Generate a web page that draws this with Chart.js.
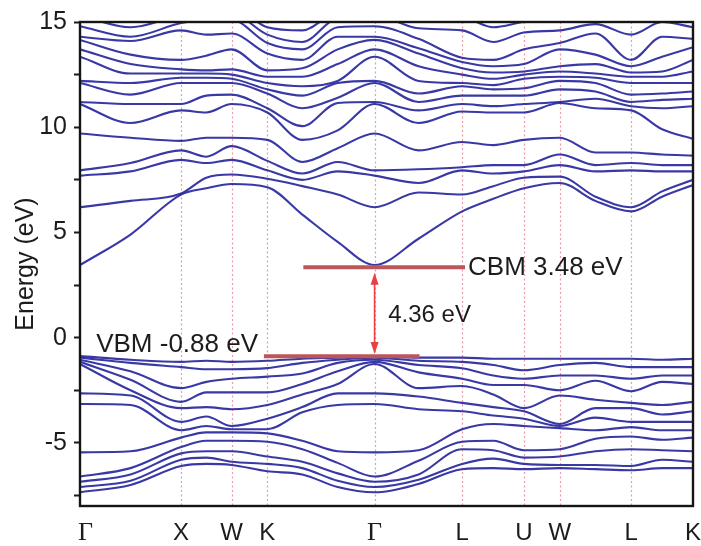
<!DOCTYPE html>
<html>
<head>
<meta charset="utf-8">
<script src="https://cdn.jsdelivr.net/npm/chart.js@4/dist/chart.umd.min.js"></script>
<style>
  html, body { margin: 0; padding: 0; background: #ffffff; }
  #wrap { width: 701px; height: 546px; }
</style>
</head>
<body>
<div id="wrap"><canvas id="c" width="701" height="546"></canvas></div>
<script>
// ---- high-symmetry path ----
const kPositions = [0, 1.0, 1.5, 1.854, 2.915, 3.781, 4.393, 4.747, 5.454, 6.066];
const kLabels = ['Γ', 'X', 'W', 'K', 'Γ', 'L', 'U', 'W', 'L', 'K'];

// k values at which band energies were read
const kSamples = [0, 0.5, 1.0, 1.25, 1.5, 1.854, 2.2, 2.55, 2.915, 3.35, 3.781, 4.09, 4.393, 4.747, 5.1, 5.454, 5.76, 6.066];

// valence band energies (eV) at each sampled k, highest first
const valenceAtK = [
  [-0.88, -0.95, -1.05, -1.15, -1.25, -2.65, -3.15, -5.45, -6.6, -6.85, -7.1, -7.35], // Γ
  [-1.05, -1.2, -1.6, -2.0, -2.5, -2.75, -3.2, -5.4, -6.2, -6.5, -6.8, -7.0],
  [-1.15, -1.4, -2.4, -3.05, -3.35, -4.0, -4.4, -4.75, -5.2, -5.5, -5.8, -6.1],      // X
  [-1.1, -1.5, -2.1, -2.6, -3.3, -3.75, -4.2, -4.5, -4.9, -5.4, -5.7, -6.0],
  [-1.15, -1.5, -1.95, -2.6, -3.4, -4.2, -4.35, -4.5, -4.9, -5.4, -5.9, -6.05],     // W
  [-1.1, -1.45, -1.85, -2.6, -3.2, -3.85, -4.35, -4.55, -4.95, -5.65, -6.0, -6.35], // K
  [-1.0, -1.2, -1.7, -2.2, -2.7, -3.3, -3.55, -4.9, -5.3, -5.9, -6.2, -6.5],
  [-0.95, -1.05, -1.2, -1.6, -2.2, -2.65, -3.2, -5.4, -5.95, -6.45, -6.8, -7.1],
  [-0.88, -0.95, -1.05, -1.15, -1.25, -2.65, -3.15, -5.45, -6.6, -6.85, -7.1, -7.35], // Γ
  [-0.95, -1.1, -1.3, -1.65, -2.4, -2.8, -3.4, -5.35, -5.85, -6.5, -6.75, -6.95],
  [-0.95, -1.15, -1.45, -1.95, -2.3, -3.1, -3.5, -4.35, -4.95, -5.3, -6.0, -6.25],  // L
  [-1.0, -1.3, -1.8, -2.25, -2.7, -3.3, -3.7, -4.1, -4.9, -5.35, -5.75, -6.2],
  [-1.0, -1.55, -1.95, -2.25, -3.35, -3.5, -3.85, -4.2, -5.35, -5.7, -6.0, -6.25],  // U
  [-1.0, -1.3, -1.8, -2.5, -2.75, -4.1, -4.2, -4.3, -5.3, -5.65, -6.05, -6.2],      // W
  [-1.0, -1.2, -1.8, -2.05, -2.95, -3.35, -3.8, -4.4, -4.8, -5.4, -6.05, -6.25],
  [-1.0, -1.4, -1.95, -2.55, -3.1, -3.35, -4.0, -4.25, -4.7, -5.3, -6.1, -6.3],     // L
  [-1.05, -1.4, -1.8, -2.1, -3.2, -3.65, -4.0, -4.4, -4.85, -5.35, -5.8, -6.2],
  [-1.0, -1.4, -1.8, -2.2, -3.05, -3.5, -4.0, -4.4, -4.75, -5.4, -5.9, -6.2]        // K
];

// conduction band energies (eV) at each sampled k, lowest first
const conductionAtK = [
  [3.45, 6.2, 7.7, 7.95, 9.7, 11.1, 11.2, 12.1, 12.2, 13.35, 13.7, 14.15, 14.3, 14.8, 15.3, 15.6],   // Γ
  [4.9, 6.5, 7.9, 8.3, 9.5, 10.2, 11.1, 11.55, 12.1, 12.55, 13.0, 13.45, 14.1, 14.3, 14.75, 15.3],
  [6.8, 6.85, 8.45, 8.9, 9.35, 10.8, 11.1, 12.1, 12.35, 12.55, 12.75, 13.2, 14.6, 14.95, 15.3, 15.6], // X
  [7.1, 7.6, 8.3, 8.6, 9.5, 10.7, 11.5, 12.1, 12.35, 12.55, 12.7, 13.4, 14.4, 15.1, 15.4, 15.7],
  [7.3, 7.75, 8.45, 9.1, 9.5, 11.1, 11.55, 12.1, 12.3, 12.5, 12.75, 13.7, 14.45, 15.1, 15.4, 15.7],  // W
  [7.15, 7.55, 7.95, 8.4, 9.4, 10.7, 10.9, 11.6, 11.8, 12.1, 12.4, 12.7, 13.5, 14.0, 14.4, 14.75],   // K
  [5.85, 7.2, 7.5, 7.8, 8.35, 9.4, 10.05, 10.9, 11.5, 11.95, 12.4, 12.8, 13.2, 13.7, 14.05, 14.6],
  [4.55, 6.8, 7.9, 8.35, 9.0, 9.85, 11.15, 11.4, 12.1, 12.2, 13.0, 13.7, 14.3, 14.75, 15.2, 15.5],
  [3.45, 6.2, 7.7, 7.95, 9.7, 11.1, 11.2, 12.1, 12.2, 13.35, 13.7, 14.15, 14.3, 14.8, 15.3, 15.6],   // Γ
  [4.7, 6.9, 7.35, 8.0, 8.9, 10.2, 10.8, 11.2, 11.6, 12.2, 12.9, 13.5, 13.75, 14.2, 14.7, 15.2],
  [6.0, 6.8, 7.95, 8.1, 9.3, 10.75, 11.1, 11.5, 11.95, 12.1, 12.5, 12.8, 13.1, 13.3, 14.6, 15.2],     // L
  [6.6, 7.2, 7.8, 8.2, 9.15, 10.7, 11.0, 11.5, 11.8, 12.0, 12.3, 12.6, 12.9, 13.2, 14.05, 14.75],
  [7.1, 7.6, 7.9, 8.2, 9.4, 10.7, 11.1, 11.5, 11.85, 12.3, 12.5, 12.65, 13.0, 13.7, 14.5, 15.0],      // U
  [7.35, 7.65, 8.2, 8.7, 9.5, 11.15, 11.2, 11.8, 12.2, 12.4, 12.65, 12.9, 13.7, 14.0, 14.6, 15.1],    // W
  [6.5, 6.7, 7.9, 8.2, 8.8, 10.9, 11.35, 11.7, 12.1, 12.35, 12.55, 13.0, 13.45, 14.45, 14.9, 15.3],
  [6.0, 6.2, 7.95, 8.3, 8.8, 10.8, 11.0, 11.2, 11.55, 12.1, 12.4, 12.6, 12.9, 13.2, 14.4, 15.1],      // L
  [6.7, 6.95, 7.9, 8.2, 8.7, 9.9, 10.9, 11.3, 11.6, 12.1, 12.4, 12.65, 13.35, 14.3, 15.0, 15.4],
  [7.25, 7.5, 7.9, 8.2, 8.65, 9.45, 11.0, 11.35, 11.7, 12.1, 12.65, 13.2, 13.8, 14.2, 14.75, 15.2]    // K
];

// y-axis ticks
const yTicks = [-7.5, -5, -2.5, 0, 2.5, 5, 7.5, 10, 12.5, 15];
const yLabelled = [-5, 0, 5, 10, 15];

// annotation values
const cbmLine = { k0: 2.21, k1: 3.81, e: 3.35, text: 'CBM 3.48 eV' };
const vbmLine = { k0: 1.82, k1: 3.36, e: -0.88, text: 'VBM -0.88 eV', textK: 0.16, textE: -0.33 };
const gapArrow = { k: 2.915, eTop: 3.08, eBottom: -0.78, text: '4.36 eV', textK: 3.05, textE: 1.08 };

// ---- build datasets ----
const bandColor = 'rgba(40,40,158,0.92)';
function bandsFrom(table) {
  const nb = table[0].length;
  const out = [];
  for (let b = 0; b < nb; b++) {
    out.push({
      data: kSamples.map((k, i) => ({ x: k, y: table[i][b] })),
      borderColor: bandColor,
      borderWidth: 2.1,
      pointRadius: 0,
      fill: false,
      cubicInterpolationMode: 'monotone'
    });
  }
  return out;
}
const datasets = bandsFrom(valenceAtK).concat(bandsFrom(conductionAtK));

const SANS = '"Liberation Sans", Arial, Helvetica, sans-serif';
const SERIF = '"Liberation Serif", "Times New Roman", serif';
const TEXT = '#1c1c1c';

const decor = {
  id: 'decor',
  beforeDatasetsDraw(chart) {
    const { ctx, chartArea: a, scales: { x } } = chart;
    ctx.save();
    ctx.strokeStyle = 'rgba(226,120,135,0.75)';
    ctx.lineWidth = 1.2;
    ctx.setLineDash([2, 2.5]);
    kPositions.slice(1, -1).forEach(k => {
      const px = Math.round(x.getPixelForValue(k)) + 0.5;
      ctx.beginPath();
      ctx.moveTo(px, a.top);
      ctx.lineTo(px, a.bottom);
      ctx.stroke();
    });
    ctx.restore();
  },
  afterDatasetsDraw(chart) {
    const { ctx, chartArea: a, scales: { x, y } } = chart;
    ctx.save();
    // CBM / VBM bars
    ctx.strokeStyle = 'rgb(188,86,88)';
    ctx.lineWidth = 4;
    [cbmLine, vbmLine].forEach(l => {
      const py = y.getPixelForValue(l.e);
      ctx.beginPath();
      ctx.moveTo(x.getPixelForValue(l.k0), py);
      ctx.lineTo(x.getPixelForValue(l.k1), py);
      ctx.stroke();
    });
    // double arrow
    const ax = x.getPixelForValue(gapArrow.k);
    const yT = y.getPixelForValue(gapArrow.eTop);
    const yB = y.getPixelForValue(gapArrow.eBottom);
    ctx.strokeStyle = 'rgb(236,62,66)';
    ctx.fillStyle = 'rgb(236,62,66)';
    ctx.lineWidth = 1.6;
    ctx.beginPath();
    ctx.moveTo(ax, yT + 8);
    ctx.lineTo(ax, yB - 8);
    ctx.stroke();
    ctx.beginPath();
    ctx.moveTo(ax, yT); ctx.lineTo(ax - 4, yT + 12); ctx.lineTo(ax + 4, yT + 12); ctx.closePath(); ctx.fill();
    ctx.beginPath();
    ctx.moveTo(ax, yB); ctx.lineTo(ax - 4, yB - 12); ctx.lineTo(ax + 4, yB - 12); ctx.closePath(); ctx.fill();

    // texts
    ctx.fillStyle = TEXT;
    ctx.textBaseline = 'middle';
    ctx.textAlign = 'left';
    ctx.font = '26px ' + SANS;
    ctx.fillText(cbmLine.text, x.getPixelForValue(cbmLine.k1) + 3, y.getPixelForValue(cbmLine.e) + 1);
    ctx.fillText(vbmLine.text, x.getPixelForValue(vbmLine.textK), y.getPixelForValue(vbmLine.textE));
    ctx.font = '24px ' + SANS;
    ctx.fillText(gapArrow.text, x.getPixelForValue(gapArrow.textK), y.getPixelForValue(gapArrow.textE));

    // frame
    ctx.strokeStyle = '#151515';
    ctx.lineWidth = 2.4;
    ctx.strokeRect(a.left, a.top, a.right - a.left, a.bottom - a.top);

    // x tick labels
    ctx.textBaseline = 'middle';
    kPositions.forEach((k, i) => {
      const lbl = kLabels[i];
      ctx.font = (lbl === 'Γ' ? '26px ' + SERIF : '24px ' + SANS);
      let px = x.getPixelForValue(k);
      ctx.textAlign = 'center';
      if (i === 0) { ctx.textAlign = 'left'; px = px - 2; }
      ctx.fillText(lbl, px, a.bottom + 27);
    });
    ctx.restore();
  }
};

new Chart(document.getElementById('c'), {
  type: 'line',
  data: { datasets },
  options: {
    responsive: false,
    animation: false,
    events: [],
    layout: { padding: { top: 15, right: 8, left: 0, bottom: 0 }, autoPadding: false },
    plugins: { legend: { display: false }, tooltip: { enabled: false } },
    scales: {
      x: {
        type: 'linear',
        min: kPositions[0],
        max: kPositions[kPositions.length - 1],
        grid: { display: false },
        border: { display: false },
        ticks: { display: false },
        afterFit(s) { s.height = 40; }
      },
      y: {
        type: 'linear',
        min: -8,
        max: 15,
        afterBuildTicks(s) { s.ticks = yTicks.map(v => ({ value: v })); },
        afterFit(s) { s.width = 80; },
        grid: {
          drawOnChartArea: false,
          drawTicks: true,
          tickLength: 6,
          tickWidth: 2,
          tickColor: '#1a1a1a',
          color: '#1a1a1a'
        },
        border: { display: false },
        ticks: {
          padding: 7,
          color: TEXT,
          font: { family: SANS, size: 25 },
          callback: v => (yLabelled.includes(v) ? String(v) : '')
        },
        title: {
          display: true,
          text: 'Energy (eV)',
          color: TEXT,
          font: { family: SANS, size: 25 },
          padding: { top: 11, bottom: 0 }
        }
      }
    }
  },
  plugins: [decor]
});
</script>
</body>
</html>
